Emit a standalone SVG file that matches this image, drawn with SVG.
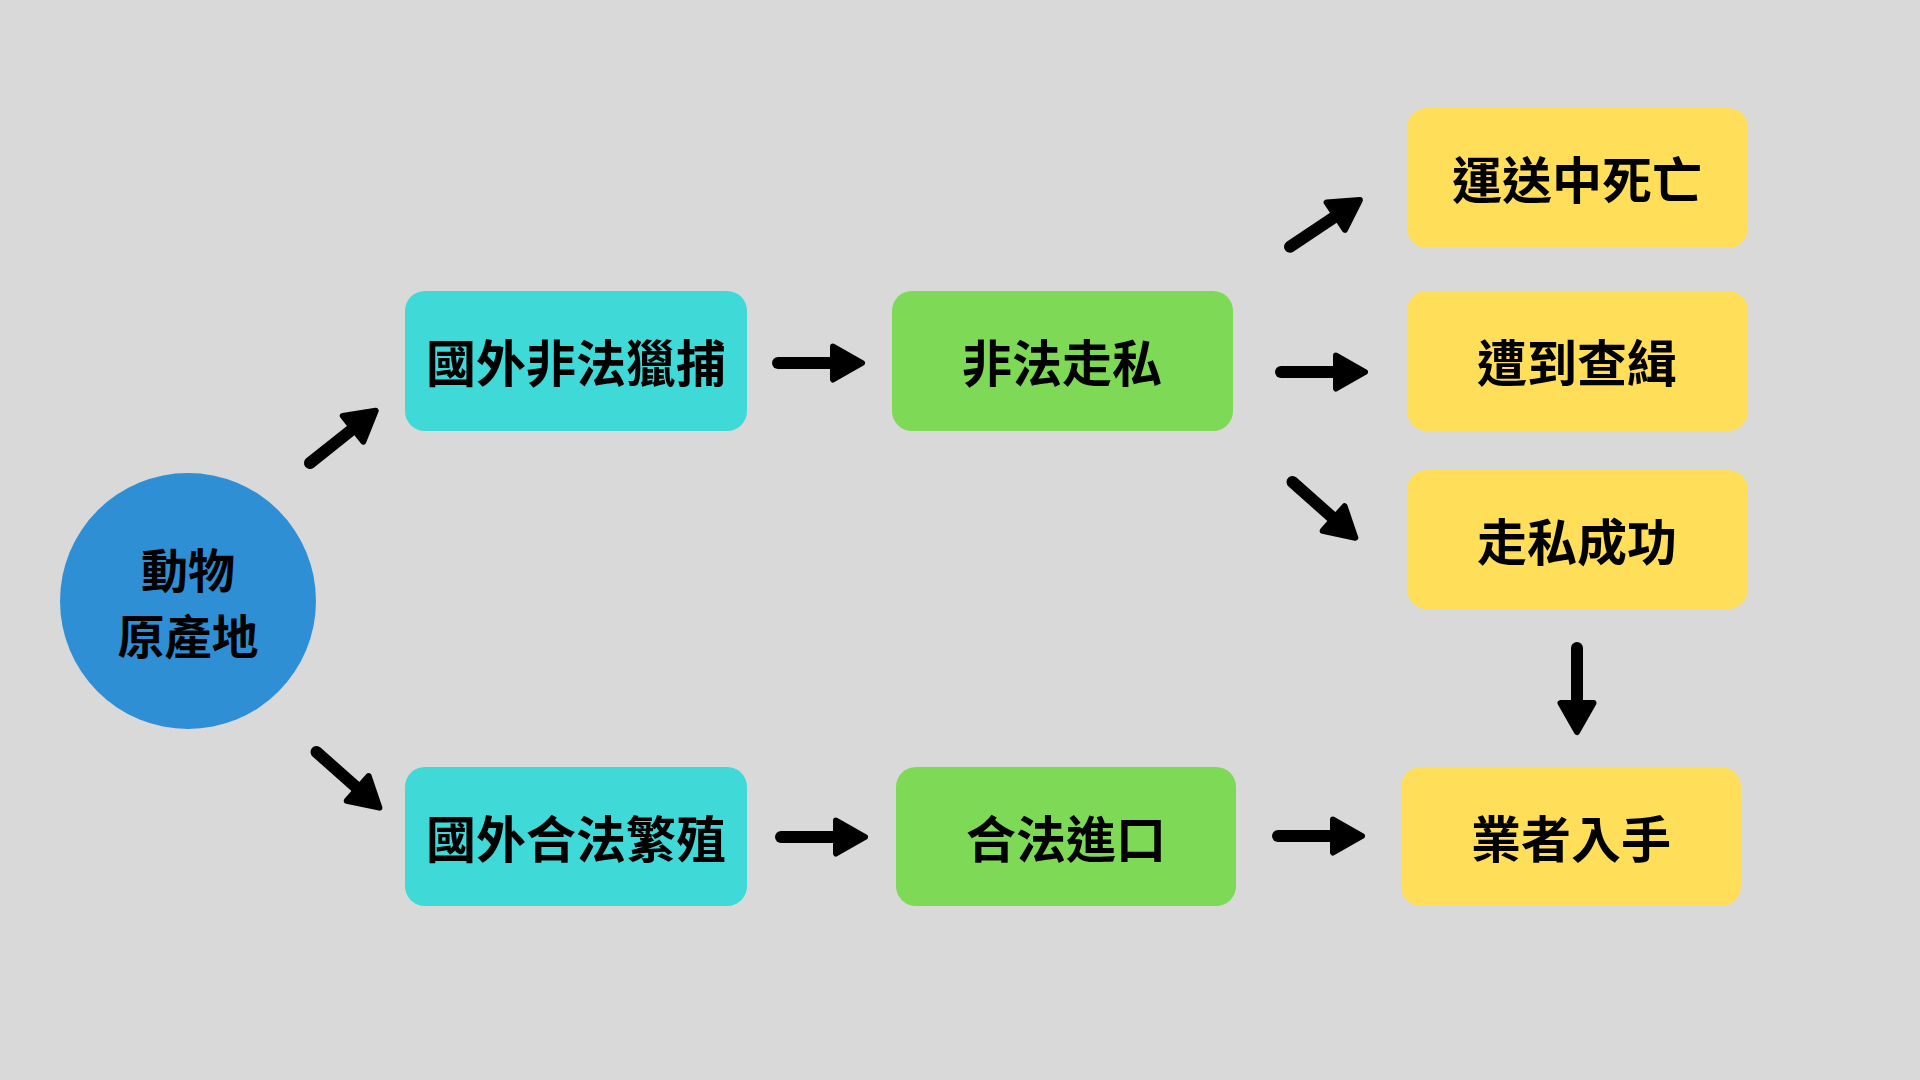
<svg xmlns="http://www.w3.org/2000/svg" xmlns:xlink="http://www.w3.org/1999/xlink" width="1920" height="1080" viewBox="0 0 1920 1080">
<style>
.lbl{font-family:'Noto Sans CJK TC','Noto Sans CJK SC',sans-serif;font-weight:700;font-size:50px;fill:#000;text-anchor:middle}
.clbl{font-family:'Noto Sans CJK TC','Noto Sans CJK SC',sans-serif;font-weight:700;font-size:47px;fill:#000;text-anchor:middle}
.cyan{fill:#3fd9d7}
.green{fill:#7ed957}
.yellow{fill:#ffde59}
</style>
<defs>
<g id="arr">
<line x1="0" y1="0" x2="58" y2="0" stroke="#000" stroke-width="12" stroke-linecap="round"/>
<polygon points="55,-16.5 84,0 55,16.5" fill="#000" stroke="#000" stroke-width="6" stroke-linejoin="round"/>
</g>
</defs>
<rect width="1920" height="1080" fill="#d9d9d9"/>
<g id="origin">
<circle cx="188" cy="601" r="128" fill="#2f8fd5"/>
<text class="clbl" x="188" y="588">動物</text>
<text class="clbl" x="188" y="654">原產地</text>
</g>
<g id="illegal-hunt">
<rect class="cyan" x="405" y="291" width="342" height="140" rx="20"/>
<text class="lbl" x="576" y="382">國外非法獵捕</text>
</g>
<g id="legal-breed">
<rect class="cyan" x="405" y="767" width="342" height="139" rx="20"/>
<text class="lbl" x="576" y="858">國外合法繁殖</text>
</g>
<g id="smuggle">
<rect class="green" x="892" y="291" width="341" height="140" rx="20"/>
<text class="lbl" x="1062" y="382">非法走私</text>
</g>
<g id="legal-import">
<rect class="green" x="896" y="767" width="340" height="139" rx="20"/>
<text class="lbl" x="1066" y="858">合法進口</text>
</g>
<g id="death">
<rect class="yellow" x="1407" y="108" width="341" height="140" rx="20"/>
<text class="lbl" x="1577" y="199">運送中死亡</text>
</g>
<g id="seized">
<rect class="yellow" x="1407" y="291" width="341" height="140" rx="20"/>
<text class="lbl" x="1577" y="382">遭到查緝</text>
</g>
<g id="success">
<rect class="yellow" x="1407" y="470" width="341" height="139" rx="20"/>
<text class="lbl" x="1577" y="561">走私成功</text>
</g>
<g id="dealer">
<rect class="yellow" x="1401" y="767" width="340" height="139" rx="20"/>
<text class="lbl" x="1571" y="858">業者入手</text>
</g>
<g id="connectors">
<use xlink:href="#arr" transform="translate(310,463) rotate(-38.5)"/>
<use xlink:href="#arr" transform="translate(316.5,752) rotate(41.5)"/>
<use xlink:href="#arr" transform="translate(778,363)"/>
<use xlink:href="#arr" transform="translate(781,837)"/>
<use xlink:href="#arr" transform="translate(1290,246.7) rotate(-33.7)"/>
<use xlink:href="#arr" transform="translate(1281,372)"/>
<use xlink:href="#arr" transform="translate(1292.5,482) rotate(41.6)"/>
<use xlink:href="#arr" transform="translate(1577,648) rotate(90)"/>
<use xlink:href="#arr" transform="translate(1278,836)"/>
</g>
</svg>
